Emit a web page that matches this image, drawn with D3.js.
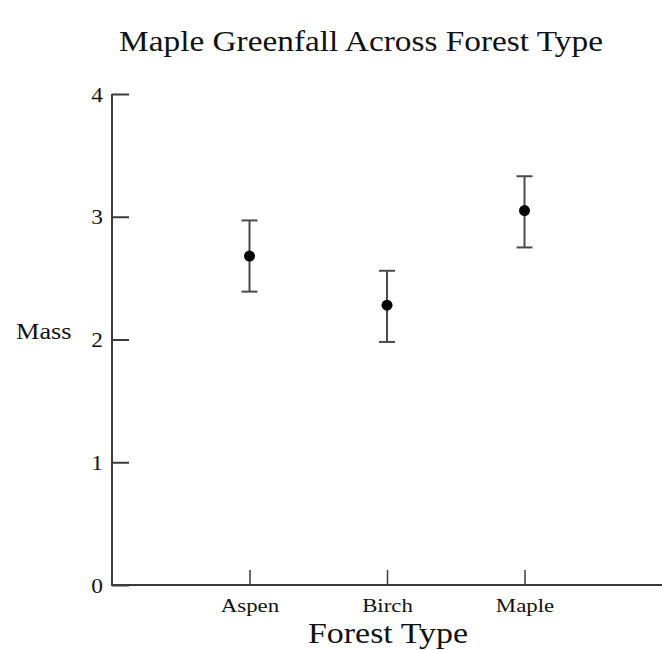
<!DOCTYPE html>
<html>
<head>
<meta charset="utf-8">
<script src="https://cdn.jsdelivr.net/npm/d3@7"></script>
<style>
  html, body { margin: 0; padding: 0; background: #fff; }
  text { font-family: "Liberation Serif", "Times New Roman", serif; fill: #111; }
</style>
</head>
<body>
<svg id="chart" width="662" height="650"></svg>
<script>
const categories = ["Aspen", "Birch", "Maple"];
const means = [2.68, 2.28, 3.05];
const lowers = [2.39, 1.98, 2.75];
const uppers = [2.97, 2.56, 3.33];
const yTicks = [0, 1, 2, 3, 4];
const titleText = "Maple Greenfall Across Forest Type";
const xTitle = "Forest Type";
const yTitle = "Mass";

const svg = d3.select("#chart");
const stretch = 1.17;

const x = d3.scalePoint().domain(categories).range([112, 662]).padding(1);
const y = d3.scaleLinear().domain([0, 4]).range([585, 94]);

const axisColor = "#3a3a3a";

// Y axis
const yAxis = d3.axisLeft(y).tickValues(yTicks).tickSize(-17).tickPadding(0).tickFormat(d3.format("d"));
const gy = svg.append("g").attr("transform", "translate(112,0)").call(yAxis);
gy.select(".domain").remove();
gy.selectAll(".tick line").attr("stroke", axisColor).attr("stroke-width", 2);
gy.selectAll(".tick text").remove();
gy.append("line").attr("x1", 0).attr("x2", 0).attr("y1", y(4)).attr("y2", y(0))
  .attr("stroke", axisColor).attr("stroke-width", 2);
gy.selectAll(".tick").append("text")
  .attr("transform", d => `translate(-9,7) scale(${stretch},1)`)
  .attr("text-anchor", "end")
  .style("font-size", "20px")
  .attr("fill", "#222")
  .text(d => d);

// X axis
const xAxis = d3.axisBottom(x).tickSize(-15).tickPadding(0);
const gx = svg.append("g").attr("transform", `translate(0,${y(0)})`).call(xAxis);
gx.select(".domain").remove();
gx.selectAll(".tick line").attr("stroke", axisColor).attr("stroke-width", 1.5);
gx.selectAll(".tick text").remove();
gx.append("line").attr("x1", 111).attr("x2", 662).attr("y1", 0).attr("y2", 0)
  .attr("stroke", axisColor).attr("stroke-width", 2);
gx.selectAll(".tick").append("text")
  .attr("transform", `translate(0,27) scale(${stretch},1)`)
  .attr("text-anchor", "middle")
  .style("font-size", "19.5px")
  .attr("fill", "#222")
  .text(d => d);

// Error bars
const data = categories.map((c, i) => ({ c, m: means[i], lo: lowers[i], hi: uppers[i] }));
const barColor = "#4a4a4a";
const g = svg.append("g");
g.selectAll(".stem").data(data).join("line")
  .attr("x1", d => x(d.c)).attr("x2", d => x(d.c))
  .attr("y1", d => y(d.lo)).attr("y2", d => y(d.hi))
  .attr("stroke", barColor).attr("stroke-width", 2);
g.selectAll(".capT").data(data).join("line")
  .attr("x1", d => x(d.c) - 8).attr("x2", d => x(d.c) + 8)
  .attr("y1", d => y(d.hi)).attr("y2", d => y(d.hi))
  .attr("stroke", barColor).attr("stroke-width", 2);
g.selectAll(".capB").data(data).join("line")
  .attr("x1", d => x(d.c) - 8).attr("x2", d => x(d.c) + 8)
  .attr("y1", d => y(d.lo)).attr("y2", d => y(d.lo))
  .attr("stroke", barColor).attr("stroke-width", 2);
g.selectAll(".dot").data(data).join("circle")
  .attr("cx", d => x(d.c)).attr("cy", d => y(d.m)).attr("r", 5.5)
  .attr("fill", "#000");

// Titles
svg.append("text")
  .attr("transform", `translate(361,51) scale(${stretch},1)`)
  .attr("text-anchor", "middle")
  .style("font-size", "28.5px")
  .text(titleText);

svg.append("text")
  .attr("transform", `translate(388,643) scale(${stretch},1)`)
  .attr("text-anchor", "middle")
  .style("font-size", "29px")
  .text(xTitle);

svg.append("text")
  .attr("transform", `translate(16,339) scale(${stretch},1)`)
  .attr("text-anchor", "start")
  .style("font-size", "22.5px")
  .text(yTitle);
</script>
</body>
</html>
